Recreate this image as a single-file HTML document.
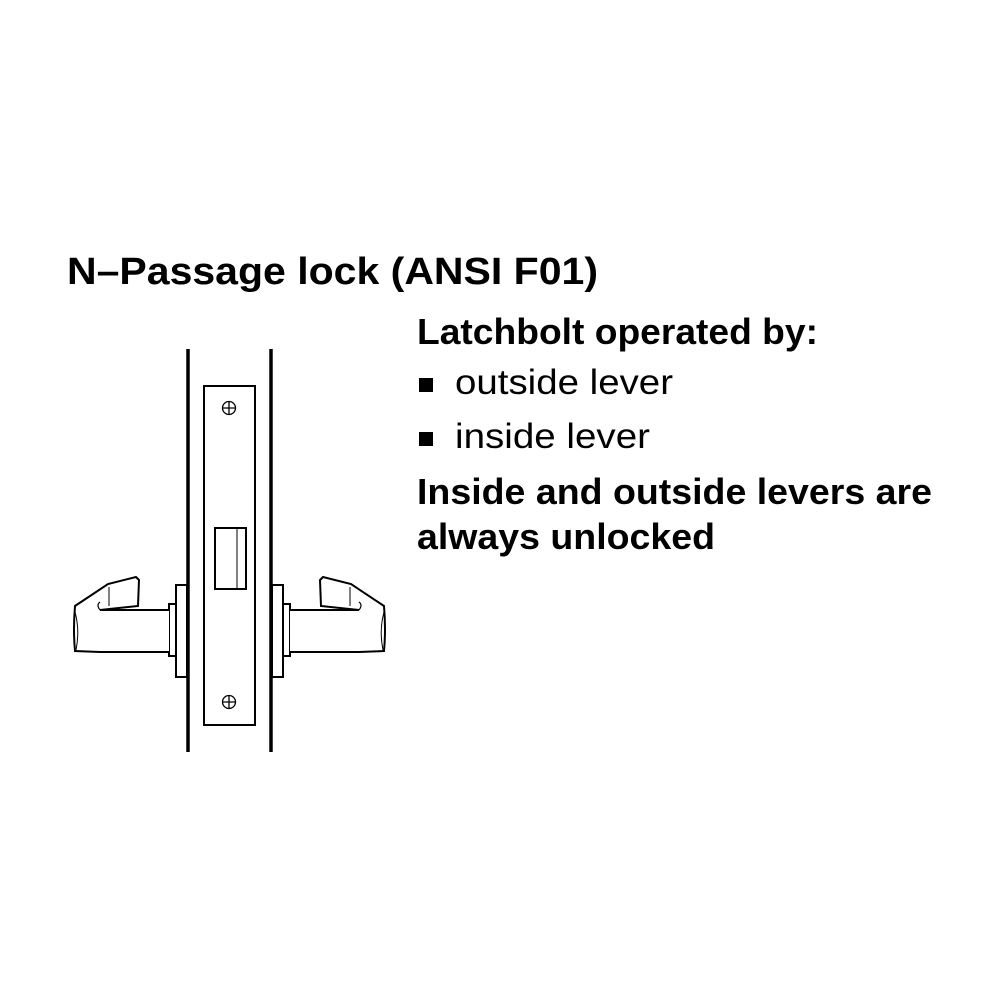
<!DOCTYPE html>
<html><head><style>html,body{margin:0;padding:0;background:#fff}svg{display:block}</style></head>
<body>
<svg width="1000" height="1000" viewBox="0 0 1000 1000" xmlns="http://www.w3.org/2000/svg">
<rect width="1000" height="1000" fill="#fff"/>
<g font-family="Liberation Sans, sans-serif" fill="#000">
<text x="67" y="284" font-size="38" font-weight="bold" textLength="531" lengthAdjust="spacingAndGlyphs">N–Passage lock (ANSI F01)</text>
<text x="417" y="344" font-size="36" font-weight="bold" textLength="401" lengthAdjust="spacingAndGlyphs">Latchbolt operated by:</text>
<rect x="419" y="378" width="14" height="14"/>
<text x="455" y="394" font-size="35" textLength="218" lengthAdjust="spacingAndGlyphs">outside lever</text>
<rect x="419" y="432" width="14" height="14"/>
<text x="455" y="448" font-size="35" textLength="195" lengthAdjust="spacingAndGlyphs">inside lever</text>
<text x="417" y="504" font-size="36" font-weight="bold" textLength="515" lengthAdjust="spacingAndGlyphs">Inside and outside levers are</text>
<text x="417" y="549" font-size="36" font-weight="bold" textLength="298" lengthAdjust="spacingAndGlyphs">always unlocked</text>
</g>
<g stroke="#000" fill="none" stroke-width="2">
<line x1="188" y1="349" x2="188" y2="752" stroke-width="3.5"/>
<line x1="271" y1="349" x2="271" y2="752" stroke-width="3.5"/>
<rect x="204" y="386" width="51" height="339"/>
<circle cx="229" cy="408" r="6.5" stroke-width="1.3"/>
<path d="M222.5 408h13M229 401.5v13" stroke-width="1.3"/>
<circle cx="229" cy="702" r="6.5" stroke-width="1.3"/>
<path d="M222.5 702h13M229 695.5v13" stroke-width="1.3"/>
<rect x="215" y="528" width="31" height="61"/>
<line x1="237" y1="528" x2="237" y2="589" stroke-width="1"/>
<g id="lv">
<rect x="176" y="585" width="11" height="92" fill="#fff"/>
<rect x="169" y="604" width="7" height="52" fill="#fff"/>
<path d="M169 610 H100 L138 606 L139 580 L136 577 L108 584 L75 606 Q73 630 75 651 L100 652 H169" fill="#fff"/>
<path d="M100 610 Q96 605 100 602" stroke-width="1.2"/>
<path d="M109 587 V606" stroke-width="1"/>
<path d="M75 612 Q80 630 76 650" stroke-width="1"/>
</g>
<use href="#lv" transform="translate(459 0) scale(-1 1)"/>
</g>
</svg>
</body></html>
